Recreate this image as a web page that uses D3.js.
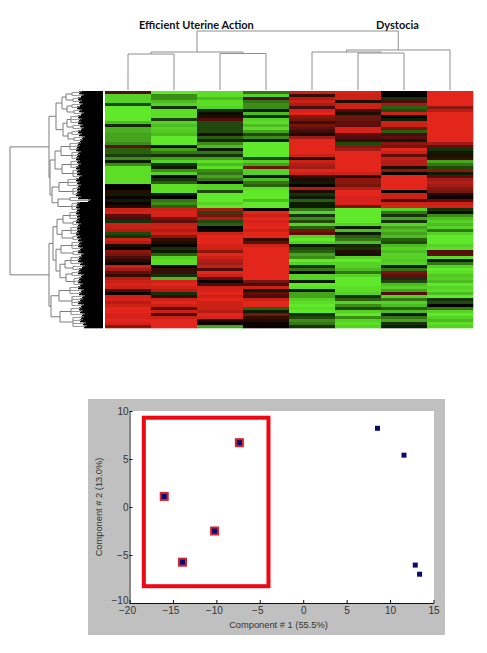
<!DOCTYPE html>
<html><head><meta charset="utf-8">
<style>html,body{margin:0;padding:0;background:#fff}svg{display:block}</style>
<script src="https://cdn.jsdelivr.net/npm/d3@7/dist/d3.min.js"></script>
</head><body><svg id="c" width="487" height="653"></svg>
<script>
const groupLabels = ["Efficient Uterine Action","Dystocia"];
const col1 = [.35,-.9,-.9,-.9,-.3,-1,-1,-1,-1,-1,-.8,-.15,-.75,-.75,-.7,-.7,-.7,-.6,.4,-.4,-.4,-.25,-.6,-.1,-.6,-.95,-.95,-.95,-.95,-.95,-.95,0,0,.15,-.1,.05,-.1,.05,
 .1,.9,.95,.4,.3,-.2,.9,.85,.8,-.3,-.2,.9,.8,.1,.05,.6,.5,.3,.15,.05,.9,.7,.4,.2,.8,.9,.95,.9,.3,.05,.9,.95,.8,.9,1,1,.95,.95,1,.95,.6];
const col2 = [-1,-.6,-.6,-.8,-.9,-.2,-.95,-.95,-.95,-.25,-.9,-.8,-.9,-.85,-.8,-1,-1,-1,-.05,-.7,-.5,-.2,-.7,-.9,-.2,-.1,-.6,-.9,.05,-.2,-.4,-.95,-.95,-.95,-.1,0,-.5,-.6,
 -.4,.9,.95,.95,.5,.4,.85,.9,.8,.9,.6,.2,.1,.05,-.2,-.1,-.4,-.9,-.95,-.95,.05,.2,.25,-.2,-.8,.95,1,.9,.8,-.2,.2,.9,1,.9,.4,.9,.3,.9,1,1,1];
const col3 = [-.95,-.95,-.8,-.95,-.95,-.9,-.2,-.05,.1,.35,-.3,-.3,-.3,-.3,.1,-.4,-.15,-.6,-.8,-.1,-.5,-.2,-.7,-.95,-.8,-.95,-.6,-.5,-.7,-.5,0,-.9,-.9,-.3,-1,-1,-1,-.9,
 -1,.7,-.3,.5,.8,-.3,-.4,0,.05,.9,1,1,1,.95,.9,.6,1,.9,.8,.7,.85,.3,1,.9,.4,.05,.3,.9,.95,1,.9,1,.9,.9,.9,.8,1,.95,.1,.05,-.7];
const col4 = [-.5,-.9,.35,-.5,-.6,-.6,-.1,-.8,-.2,-.9,-.95,-.8,-.95,-.7,-.3,-.6,-.1,-1,-1,-1,-1,-1,-.3,-.9,-.7,.45,-.9,-.9,-.05,-.8,-.5,-.4,-.95,-1,-1,-1,-.8,-1,
 -1,.05,1,.9,1,.95,1,1,.9,1,1,.2,.4,.9,1,1,1,1,1,1,1,1,1,1,1,.5,.3,.9,-.1,.4,.3,.9,1,1,-.4,-.1,.5,.2,.1,.05,.05];
const col5 = [.9,.2,.8,.9,.75,.3,.95,1,.6,.5,.25,.5,.4,.25,.1,.7,1,1,1,1,1,.9,.1,.9,.8,.7,1,.9,.2,.1,-.1,.05,.8,.1,-.2,-.1,-.4,-.1,
 -.1,-.5,-.9,-.2,-.6,-.3,-.9,-.4,.5,.4,-.9,-1,-.9,-.1,-.3,-.4,-.7,-.6,-1,-.9,-.2,-.5,0,-.9,-.9,-.1,-1,-.95,-.1,-.7,-.7,-.9,-.95,-1,-.95,-1,-.2,-.3,-.6,-.5,-.2];
const col6 = [.95,.9,.9,.1,.9,.9,.3,.1,.45,.45,.4,.4,.95,.95,.4,.35,.2,-.3,.6,.7,1,1,1,1,1,1,1,.9,.15,.6,.6,.5,.8,1,1,.95,.95,.95,
 .5,-1,-1,-1,-1,-1,-.9,-.1,-.8,-.1,-.4,-.5,-.8,-.15,-.2,.15,.1,-.9,-1,-.9,-.9,-.8,-.5,-.9,-1,-1,-1,-.95,-.95,-.9,-.2,-.4,-.9,-.6,-.3,-.9,-1,-.6,-.9,-.95,-.9];
const col7 = [.05,0,-.2,.3,.7,-.4,-.3,.9,0,-.1,.9,.9,.5,-.4,.3,.4,-.1,.6,.5,1,.9,.4,.85,.8,.8,.1,.6,0,1,1,1,1,1,.05,.9,.9,.3,.9,
 .95,-.9,-.5,-.2,-.7,-.2,-.9,-.7,-.8,-.7,-.8,-.4,-.3,-.8,-.9,-.8,-.9,-.9,-.85,-.9,-.1,-.5,.5,.4,-.2,-.3,-.8,-.9,-.7,.35,-.9,-.5,-.9,-.8,-.4,-.8,-.1,-.5,-.7,-.2,-.1];
const col8 = [1,1,1,1,1,.6,.8,1,1,1,1,1,1,1,1,1,1,.7,.4,-.2,-.1,.1,.2,-.7,-.5,-.3,.6,-.1,.4,.7,.8,.7,.6,.5,.1,.05,.4,.9,
 .95,-.2,-.05,-.6,-.8,-.9,-.8,-.9,-.5,-.9,-1,-1,-1,-.9,-.95,.35,.4,-.95,-.1,-.5,-.9,-1,-.95,-.85,-.9,-.8,-1,-.9,-.95,-.8,-1,-.2,-.3,0,-.5,-.9,-1,-.9,-.8,-.95,-.9];
const heatColumns = [col1,col2,col3,col4,col5,col6,col7,col8];

// leaf tips of the gene dendrogram (distance units), one per row
const geneTips = [24,22,25,24,23,26,24,22,25,24,25,23,22,25,24,21,23,25,26,27,25,26,27,26,25,27,26,26,24,27,26,25,26,26,27,25,15,26,27,
 26,27,26,26,27,25,26,26,27,26,25,24,25,23,25,22,24,25,23,21,24,25,22,24,25,23,25,22,24,21,23,25,22,24,23,21,22,23,20,19];
const comb = (d,n)=>({d,n});
const node = (d,...children)=>({d,children});
const geneTree = node(93,
  node(54,
    node(47,
      node(41, node(37, comb(31,2), comb(30,2)), node(36, comb(31,2), comb(29,2))),
      node(40, node(36, comb(32,3), comb(30,2)), node(35, comb(31,2), comb(29,2)))),
    node(53,
      node(48, node(42, comb(33,3), comb(31,3)), node(41, comb(32,3), comb(30,3))),
      node(51, node(44, comb(35,3), comb(30,3)), node(45, comb(33,2), comb(31,3))))),
  node(54,
    node(50,
      node(46, node(40, comb(33,3), comb(30,2)), node(41, comb(32,3), comb(30,2))),
      node(47, node(42, comb(31,3), comb(30,2)), node(43, node(38, comb(32,3), comb(30,2)), node(37, comb(31,2), comb(29,3))))),
    node(52, node(44, comb(33,3), comb(31,4)), node(43, comb(32,3), comb(30,4)))));

// sample dendrogram: merge heights
const sampleTree = {h:59, children:[
  {h:38, children:[{h:36,children:[{leaf:0},{leaf:1}]},{h:36.5,children:[{leaf:2},{leaf:3}]}]},
  {h:40, children:[{h:38,children:[{leaf:4},{h:37,children:[{leaf:5},{leaf:6}]}]},{leaf:7}]}
]};

// PCA scatter
const compX = [-16,-7.35,-10.2,-13.9,8.55,11.6,12.9,13.4];
const compY = [1.1,6.7,-2.5,-5.75,8.2,5.4,-6.05,-7];
const highlighted = [true,true,true,true,false,false,false,false];
const boxX = [-18.35,-4];
const boxY = [-8.25,9.3];
const xTicks = [-20,-15,-10,-5,0,5,10,15];
const yTicks = [-10,-5,0,5,10];
const xLabel = "Component # 1 (55.5%)";
const yLabel = "Component # 2 (13.0%)";

const svg = d3.select("#c");
const defs = svg.append("defs");
defs.append("filter").attr("id","soft").attr("x","-2%").attr("y","-2%").attr("width","104%").attr("height","104%")
  .append("feGaussianBlur").attr("stdDeviation",0.45);

/* heatmap */
const nRows = col1.length;
const hx = d3.scaleBand().domain(d3.range(8)).range([105,473]);
const hy = d3.scaleBand().domain(d3.range(nRows)).range([91,328]);
const heatColor = d3.scaleLinear().domain([-1,0,1]).range(["#5fe92a","#060300","#e2261c"]);
const hg = svg.append("g").attr("filter","url(#soft)");
heatColumns.forEach((col,c)=>{
  hg.append("g").selectAll("rect").data(col).join("rect")
    .attr("x",hx(c)).attr("width",hx.bandwidth()+.3)
    .attr("y",(d,i)=>hy(i)).attr("height",hy.bandwidth()+.3)
    .attr("fill",d=>heatColor(d));
});

/* gene dendrogram */
const gx = d3.scaleLinear().domain([0,100]).range([103,3]);
const gy = i=>hy(i)+hy.bandwidth()/2;
const gg = svg.append("g").attr("filter","url(#soft)");
gg.selectAll("rect").data(geneTips).join("rect")
  .attr("x",d=>gx(d)).attr("width",d=>gx(0)-gx(d))
  .attr("y",(d,i)=>hy(i)).attr("height",hy.bandwidth()+.3).attr("fill","#000");
const linkColor = "#7c7c7c";
const seg = (x1,y1,x2,y2,c,w)=>gg.append("line").attr("x1",x1).attr("y1",y1).attr("x2",x2).attr("y2",y2)
  .attr("stroke",c||linkColor).attr("stroke-width",w||1);
let cursor = 0;
function layoutGene(n){
  if(n.n){
    const rows = d3.range(cursor,cursor+n.n); cursor += n.n;
    const X = gx(n.d);
    seg(X,gy(rows[0]),X,gy(rows[rows.length-1]));
    rows.forEach(r=>seg(X,gy(r),gx(geneTips[r])+1,gy(r),"#9a9a9a",1));
    rows.forEach(r=>seg(gx(geneTips[r])-2,gy(r)-.7,gx(geneTips[r]-3),gy(r)-.7,"#c4c4c4",.7));
    return d3.mean(rows,gy);
  }
  const ys = n.children.map(ch=>({y:layoutGene(ch),x:gx(ch.d)}));
  const X = gx(n.d);
  const y0 = d3.min(ys,d=>d.y), y1 = d3.max(ys,d=>d.y);
  seg(X,y0,X,y1);
  ys.forEach(p=>seg(X,p.y,p.x,p.y));
  return (y0+y1)/2;
}
layoutGene(geneTree);

/* sample dendrogram */
const sy = d3.scaleLinear().domain([0,59]).range([90,31]);
const sx = i=>hx(i)+hx.bandwidth()/2;
const sg = svg.append("g").attr("fill","none").attr("stroke","#8e8e8e").attr("stroke-width",1);
function layoutSample(n){
  if(n.leaf!==undefined) return {x:sx(n.leaf),h:0};
  const k = n.children.map(layoutSample);
  k.forEach(p=>sg.append("path").attr("d",d3.line()([[p.x,sy(p.h)],[p.x,sy(n.h)]])));
  sg.append("path").attr("d",d3.line()([[k[0].x,sy(n.h)],[k[1].x,sy(n.h)]]));
  return {x:(k[0].x+k[1].x)/2,h:n.h};
}
layoutSample(sampleTree);

svg.append("g").attr("font-family","Lato, 'Open Sans', sans-serif").attr("font-weight",700)
  .attr("font-size",11).attr("fill","#111")
  .selectAll("text").data(groupLabels).join("text")
  .attr("x",(d,i)=>[139,376][i]).attr("y",29).text(d=>d);

/* PCA panel */
svg.append("rect").attr("x",88).attr("y",399).attr("width",357).attr("height",236).attr("fill","#c0c0c0");
svg.append("rect").attr("x",129).attr("y",411).attr("width",305).attr("height",192).attr("fill","#fff");
const x = d3.scaleLinear().domain([-20,15]).range([129.5,433.5]);
const y = d3.scaleLinear().domain([-10,10]).range([603,411]);
const axisFont = "'Liberation Sans', Arial, sans-serif";
const ax = svg.append("g").attr("transform","translate(0,603)")
  .call(d3.axisBottom(x).tickValues(xTicks).tickSizeInner(-3).tickSizeOuter(0).tickPadding(5));
const ay = svg.append("g").attr("transform","translate(129.5,0)")
  .call(d3.axisLeft(y).tickValues(yTicks).tickSizeInner(-3).tickSizeOuter(0).tickPadding(1));
[ax,ay].forEach(a=>{
  a.attr("font-family",axisFont).attr("font-size",10);
  a.selectAll("path").attr("stroke","#111");
  a.selectAll("line").attr("stroke","#111");
  a.selectAll("text").attr("fill","#333");
});
ax.selectAll("text").attr("dy","0.6em").attr("dx",d=>d<0?-2.5:0);
ay.selectAll("text").attr("dy",d=>d===-10?"0.05em":"0.32em");
svg.append("text").attr("x",278.5).attr("y",628).attr("text-anchor","middle")
  .attr("font-family",axisFont).attr("font-size",9.3).attr("fill","#333").text(xLabel);
svg.append("text").attr("transform","translate(102,507) rotate(-90)").attr("text-anchor","middle")
  .attr("font-family",axisFont).attr("font-size",9.3).attr("fill","#333").text(yLabel);

svg.append("rect").attr("x",x(boxX[0])).attr("y",y(boxY[1]))
  .attr("width",x(boxX[1])-x(boxX[0])).attr("height",y(boxY[0])-y(boxY[1]))
  .attr("fill","none").attr("stroke","#ee0814").attr("stroke-width",4);
const pts = compX.map((v,i)=>({x:v,y:compY[i],hl:highlighted[i]}));
svg.append("g").selectAll("rect").data(pts.filter(d=>d.hl)).join("rect")
  .attr("x",d=>x(d.x)-4.5).attr("y",d=>y(d.y)-4.5).attr("width",9).attr("height",9).attr("fill","#d0242e");
svg.append("g").selectAll("rect").data(pts).join("rect")
  .attr("x",d=>x(d.x)-2.5).attr("y",d=>y(d.y)-2.5).attr("width",5).attr("height",5).attr("fill","#0a0a70");
</script></body></html>
